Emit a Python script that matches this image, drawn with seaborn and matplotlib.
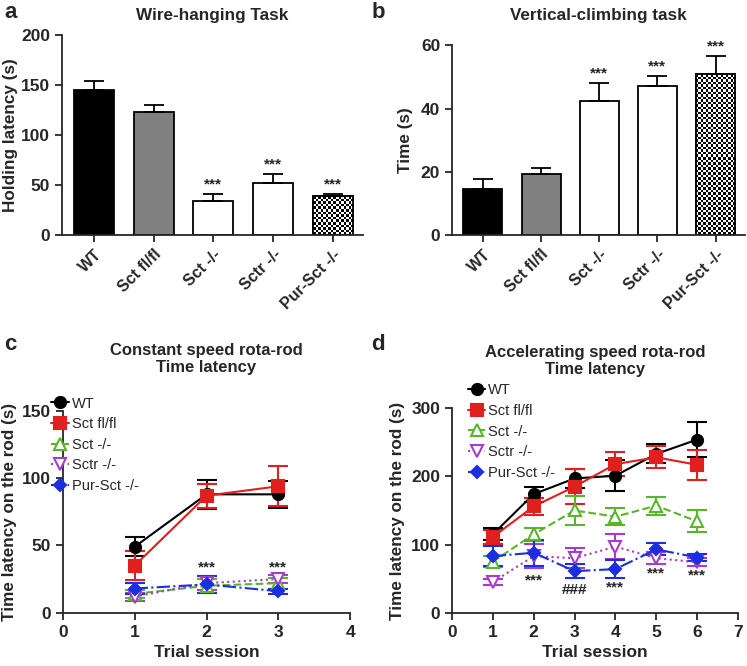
import numpy as np
import pandas as pd
import matplotlib
matplotlib.use("Agg")
import matplotlib.pyplot as plt
import seaborn as sns

# ---- data ----
groups = ["WT", "Sct fl/fl", "Sct -/-", "Sctr -/-", "Pur-Sct -/-"]

wire_mean = [145, 123, 34, 52, 39]
wire_err = [9, 7, 7, 9, 2.5]
wire_sig = ["", "", "***", "***", "***"]

climb_mean = [14.5, 19.3, 42.3, 47.0, 50.8]
climb_err = [3.3, 1.9, 5.9, 3.3, 5.9]
climb_sig = ["", "", "***", "***", "***"]

const_trials = [1, 2, 3]
const_mean = {
    "WT": [49, 88, 88],
    "Sct fl/fl": [35, 87, 94],
    "Sct -/-": [14, 20, 22],
    "Sctr -/-": [12, 22, 25],
    "Pur-Sct -/-": [18, 21, 16],
}
const_err = {
    "WT": [7, 11, 10],
    "Sct fl/fl": [11, 9, 15],
    "Sct -/-": [3, 5, 4],
    "Sctr -/-": [3, 5, 3],
    "Pur-Sct -/-": [4, 6, 2],
}
const_sig_x = [2, 3]
const_sig_y = [34, 34]

acc_trials = [1, 2, 3, 4, 5, 6]
acc_mean = {
    "WT": [115, 174, 197, 201, 233, 254],
    "Sct fl/fl": [111, 156, 185, 218, 228, 217],
    "Sct -/-": [75, 115, 150, 141, 157, 134],
    "Sctr -/-": [45, 83, 80, 97, 80, 74],
    "Pur-Sct -/-": [83, 88, 61, 64, 93, 81],
}
acc_err = {
    "WT": [9, 11, 14, 23, 14, 26],
    "Sct fl/fl": [10, 13, 26, 18, 16, 22],
    "Sct -/-": [8, 10, 21, 12, 13, 16],
    "Sctr -/-": [4, 18, 15, 18, 9, 6],
    "Pur-Sct -/-": [15, 19, 10, 13, 9, 5],
}
acc_sig_x = [2, 3, 4, 5, 6]
acc_sig_y = [47, 33, 37, 57, 54]
acc_sig_txt = ["***", "###", "***", "***", "***"]

# ---- styles ----
sns.set_theme(style="ticks")
plt.rcParams["font.family"] = ["Liberation Sans", "DejaVu Sans"]
plt.rcParams.update({
    "axes.linewidth": 1.3,
    "xtick.major.width": 1.3,
    "ytick.major.width": 1.3,
    "xtick.major.size": 5,
    "ytick.major.size": 5,
})

bar_colors = ["black", "#808080", "white", "white", "white"]
line_style = {
    "WT": dict(color="black", marker="o", ls="-", mfc="black", ms=8),
    "Sct fl/fl": dict(color="#e01f1f", marker="s", ls="-", mfc="#e01f1f", ms=8),
    "Sct -/-": dict(color="#5ab52a", marker="^", ls="--", mfc="white", ms=9),
    "Sctr -/-": dict(color="#a63ccb", marker="v", ls=":", mfc="white", ms=9),
    "Pur-Sct -/-": dict(color="#1c2fe0", marker="D", ls="-.", mfc="#1c2fe0", ms=6),
}

fig = plt.figure(figsize=(7.47, 6.66), dpi=100)
ax_a = fig.add_axes([0.083, 0.647, 0.403, 0.300])
ax_b = fig.add_axes([0.605, 0.647, 0.392, 0.285])
ax_c = fig.add_axes([0.084, 0.080, 0.385, 0.303])
ax_d = fig.add_axes([0.605, 0.080, 0.383, 0.307])


def bar_panel(ax, means, errs, sig, ylim, yticks, ylabel, title, label_x,
              title_pad):
    df = pd.DataFrame({"group": groups, "value": means})
    sns.barplot(data=df, x="group", y="value", hue="group", palette=bar_colors,
                width=0.67, edgecolor="black", linewidth=1.3, legend=False,
                errorbar=None, ax=ax, saturation=1)
    x = np.arange(len(groups))
    ax.errorbar(x, means, yerr=[np.zeros(len(means)), errs], fmt="none",
                ecolor="black", elinewidth=1.3, capsize=7, capthick=1.3, zorder=3)
    # checkerboard fill for the last bar
    patch = ax.patches[len(groups) - 1]
    bx, by = patch.get_x(), patch.get_y()
    bw, bh = patch.get_width(), patch.get_height()
    ncol = 16
    nrow = max(1, int(round(bh / (ylim[1] - ylim[0]) * 190 / 2.5)))
    checker = (np.indices((nrow, ncol)).sum(axis=0) % 2).astype(float)
    im = ax.imshow(checker, cmap="gray", interpolation="nearest", aspect="auto",
                   extent=[bx, bx + bw, by, by + bh], zorder=2)
    im.set_clip_path(patch)
    ax.add_patch(plt.Rectangle((bx, by), bw, bh, fill=False, ec="black",
                               lw=1.3, zorder=2.5))
    for xi, m, e, s in zip(x, means, errs, sig):
        if s:
            ax.text(xi, m + e + (ylim[1] - ylim[0]) * 0.012, s, ha="center",
                    va="bottom", fontsize=11, fontweight="bold")
    ax.set_xlim(-0.53, 4.5)
    ax.set_ylim(*ylim)
    ax.set_yticks(yticks)
    ax.set_xlabel("")
    ax.set_ylabel(ylabel, fontsize=12.3, fontweight="bold")
    ax.yaxis.set_label_coords(label_x, 0.5)
    ax.set_title(title, fontsize=12.3, fontweight="bold", pad=title_pad)
    ax.set_xticks(x)
    ax.set_xticklabels(groups, rotation=45, ha="right", rotation_mode="anchor",
                       fontsize=11.5, fontweight="bold")
    for t in ax.get_yticklabels():
        t.set_fontsize(12.5)
        t.set_fontweight("bold")
    sns.despine(ax=ax)


def line_panel(ax, trials, means, errs, xlim, ylim, yticks, title, legend_pos,
               title_pad, label_x):
    for name in groups:
        st = line_style[name]
        df = pd.DataFrame({"trial": trials, "value": means[name]})
        sns.lineplot(data=df, x="trial", y="value", ax=ax, color=st["color"],
                     linestyle=st["ls"], marker=st["marker"], markersize=st["ms"],
                     markerfacecolor=st["mfc"], markeredgecolor=st["color"],
                     markeredgewidth=1.5, linewidth=1.5, label=name, zorder=4)
        ax.errorbar(trials, means[name], yerr=errs[name], fmt="none",
                    ecolor=st["color"], elinewidth=1.5, capsize=7, capthick=1.5,
                    zorder=3)
    ax.set_xlim(*xlim)
    ax.set_ylim(*ylim)
    ax.set_xticks(range(xlim[0], xlim[1] + 1))
    ax.set_yticks(yticks)
    ax.set_xlabel("Trial session", fontsize=12.5, fontweight="bold")
    ax.set_ylabel("Time latency on the rod (s)", fontsize=12.3, fontweight="bold")
    ax.yaxis.set_label_coords(label_x, 0.5)
    ax.set_title(title, fontsize=12, fontweight="bold", pad=title_pad,
                 linespacing=1.15)
    for t in ax.get_xticklabels() + ax.get_yticklabels():
        t.set_fontsize(12.5)
        t.set_fontweight("bold")
    ax.legend(loc="upper left", bbox_to_anchor=legend_pos, frameon=False,
              fontsize=10.5, handlelength=1.2, handletextpad=0.2,
              labelspacing=0.45, borderaxespad=0.0)
    sns.despine(ax=ax)


bar_panel(ax_a, wire_mean, wire_err, wire_sig, (0, 200), [0, 50, 100, 150, 200],
          "Holding latency (s)", "Wire-hanging Task", -0.146, 11)
bar_panel(ax_b, climb_mean, climb_err, climb_sig, (0, 60), [0, 20, 40, 60],
          "Time (s)", "Vertical-climbing task", -0.133, 18)

line_panel(ax_c, const_trials, const_mean, const_err, (0, 4), (0, 150),
           [0, 50, 100, 150], "Constant speed rota-rod\nTime latency",
           (-0.06, 1.1), 28, -0.158)
for xs, ys in zip(const_sig_x, const_sig_y):
    ax_c.text(xs, ys, "***", ha="center", va="center", fontsize=11,
              fontweight="bold")

line_panel(ax_d, acc_trials, acc_mean, acc_err, (0, 7), (0, 300),
           [0, 100, 200, 300], "Accelerating speed rota-rod\nTime latency",
           (0.035, 1.15), 25, -0.164)
for xs, ys, s in zip(acc_sig_x, acc_sig_y, acc_sig_txt):
    ax_d.text(xs, ys, s, ha="center", va="center", fontsize=11,
              fontweight="bold")

# panel letters
for letter, (xf, yf) in zip("abcd", [(0.006, 0.981), (0.497, 0.981),
                                      (0.006, 0.483), (0.497, 0.483)]):
    fig.text(xf, yf, letter, fontsize=16, fontweight="bold", va="center")

fig.savefig("out.png", dpi=100)
